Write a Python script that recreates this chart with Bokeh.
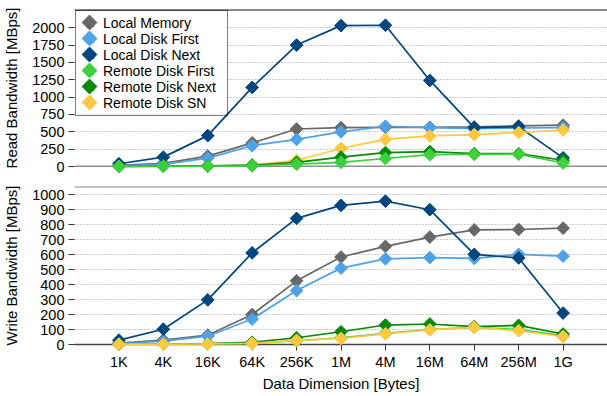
import numpy as np
from bokeh.plotting import figure
from bokeh.models import (FixedTicker, Span, Legend, LegendItem, Range1d,
                          ColumnDataSource, BoxAnnotation)
from bokeh.layouts import column
from bokeh.embed import file_html
from bokeh.resources import INLINE

# ---- data ----
sizes = ["1K", "4K", "16K", "64K", "256K", "1M", "4M", "16M", "64M", "256M", "1G"]

series_names = ["Local Memory", "Local Disk First", "Local Disk Next",
                "Remote Disk First", "Remote Disk Next", "Remote Disk SN"]

local_memory_read = [15, 45, 150, 340, 540, 560, 565, 565, 570, 585, 595]
local_disk_first_read = [10, 30, 120, 300, 390, 500, 580, 560, 545, 555, 560]
local_disk_next_read = [40, 135, 445, 1140, 1750, 2030, 2035, 1240, 560, 575, 125]
remote_disk_first_read = [2, 3, 5, 10, 35, 60, 115, 170, 175, 178, 50]
remote_disk_next_read = [3, 5, 8, 20, 60, 135, 200, 215, 185, 185, 90]
remote_disk_sn_read = [2, 4, 6, 20, 90, 260, 390, 440, 460, 490, 525]

local_memory_write = [10, 30, 62, 200, 425, 584, 655, 717, 765, 768, 777]
local_disk_first_write = [5, 22, 55, 170, 360, 510, 572, 580, 575, 602, 590]
local_disk_next_write = [29, 102, 298, 612, 842, 929, 957, 900, 602, 578, 210]
remote_disk_first_write = [2, 3, 4, 8, 25, 45, 75, 100, 115, 100, 60]
remote_disk_next_write = [3, 4, 6, 15, 45, 85, 130, 137, 120, 128, 70]
remote_disk_sn_write = [2, 3, 4, 8, 28, 40, 71, 97, 115, 92, 53]

read_ticks = [0, 250, 500, 750, 1000, 1250, 1500, 1750, 2000]
write_ticks = [0, 100, 200, 300, 400, 500, 600, 700, 800, 900, 1000]

colors = {
    "Local Memory": "#686868",
    "Local Disk First": "#4ea3e8",
    "Local Disk Next": "#00467e",
    "Remote Disk First": "#3cd03c",
    "Remote Disk Next": "#078a07",
    "Remote Disk SN": "#fec93e",
}

FONT = "Liberation Sans"
x = list(range(len(sizes)))

FRAME_W = 533
TOP_FRAME_H = 157


def make_fig(ymax, ticks, ylabel, frame_height, top, bottom):
    p = figure(frame_width=FRAME_W, frame_height=frame_height,
               x_range=Range1d(-1, 11), y_range=Range1d(0, ymax),
               output_backend="svg", toolbar_location=None,
               min_border_left=74, min_border_right=0,
               min_border_top=top, min_border_bottom=bottom)
    p.outline_line_color = None
    p.xgrid.visible = False
    p.ygrid.grid_line_color = "#9a9a9a"
    p.ygrid.grid_line_dash = "1 2"
    p.ygrid.grid_line_width = 1
    p.yaxis.ticker = FixedTicker(ticks=ticks)
    p.yaxis.axis_line_color = None
    p.yaxis.major_tick_out = 6
    p.yaxis.major_tick_in = 0
    p.yaxis.minor_tick_line_color = None
    p.yaxis.major_tick_line_color = "#333333"
    p.yaxis.major_label_standoff = 4
    p.yaxis.major_label_text_font = FONT
    p.yaxis.major_label_text_font_size = "14.5px"
    p.yaxis.major_label_text_color = "black"
    p.yaxis.axis_label = ylabel
    p.yaxis.axis_label_text_font = FONT
    p.yaxis.axis_label_text_font_size = "15px"
    p.yaxis.axis_label_text_font_style = "normal"
    p.yaxis.axis_label_text_color = "black"
    p.yaxis.axis_label_standoff = 9
    p.xaxis.ticker = FixedTicker(ticks=x)
    p.xaxis.major_label_overrides = {i: s for i, s in enumerate(sizes)}
    return p


def add_series(p, order, data):
    rends = {}
    for name in order:
        c = colors[name]
        vals = data[name]
        p.line(x, vals, line_color=c, line_width=1.7, level="overlay")
        r = p.scatter(x, vals, marker="square", angle=np.pi / 4, size=9,
                      fill_color=c, line_color=c, line_width=1, level="overlay")
        rends[name] = r
    return rends


# ---- top: read ----
READ_MAX = 2262
top = make_fig(READ_MAX, read_ticks, "Read Bandwidth [MBps]", TOP_FRAME_H, 9, 10)
top.xaxis.visible = False
top.add_layout(Span(location=0, dimension="width", line_color="#222222", line_width=1.5))
top.add_layout(Span(location=READ_MAX, dimension="width", line_color="#111111", line_width=2))

# legend layout (pixels)
LG_MARGIN, LG_PAD, LG_ITEM_H, LG_GLYPH_W = 1, 4, 16, 20
LG_STANDOFF, LG_LABEL_W = 3, 120
n_items = len(series_names)
LG_W = 2 * LG_PAD + LG_GLYPH_W + LG_STANDOFF + LG_LABEL_W
LG_H = 2 * LG_PAD + LG_ITEM_H * n_items

top.extra_x_ranges = {"px": Range1d(0, FRAME_W)}
top.extra_y_ranges = {"px": Range1d(TOP_FRAME_H, 0)}

# white backing of the legend (hides the grid lines under it)
top.add_layout(BoxAnnotation(left=LG_MARGIN, right=LG_MARGIN + LG_W,
                             top=LG_MARGIN, bottom=LG_MARGIN + LG_H,
                             x_range_name="px", y_range_name="px",
                             fill_color="white", fill_alpha=1, line_color=None,
                             level="underlay"))

read_data = {
    "Local Memory": local_memory_read,
    "Local Disk First": local_disk_first_read,
    "Local Disk Next": local_disk_next_read,
    "Remote Disk First": remote_disk_first_read,
    "Remote Disk Next": remote_disk_next_read,
    "Remote Disk SN": remote_disk_sn_read,
}
top_order = ["Local Memory", "Local Disk First", "Local Disk Next",
             "Remote Disk SN", "Remote Disk Next", "Remote Disk First"]
rr = add_series(top, top_order, read_data)

legend = Legend(items=[LegendItem(label=n, renderers=[rr[n]]) for n in series_names],
                location="top_left")
legend.border_line_color = "black"
legend.border_line_width = 1
legend.background_fill_alpha = 0
legend.padding = LG_PAD
legend.spacing = 0
legend.margin = LG_MARGIN
legend.label_height = LG_ITEM_H
legend.glyph_height = LG_ITEM_H
legend.glyph_width = LG_GLYPH_W
legend.label_standoff = LG_STANDOFF
legend.label_width = LG_LABEL_W
legend.label_text_font = FONT
legend.label_text_font_size = "14px"
legend.label_text_color = "black"
top.add_layout(legend)

# diamond-shaped legend symbols on the legend's glyph slots
sym_src = ColumnDataSource(dict(
    sx=[LG_MARGIN + LG_PAD + LG_GLYPH_W / 2] * n_items,
    sy=[LG_MARGIN + LG_PAD + LG_ITEM_H * (k + 0.5) for k in range(n_items)],
    c=[colors[n] for n in series_names],
))
top.scatter("sx", "sy", source=sym_src, x_range_name="px", y_range_name="px",
            marker="square", angle=np.pi / 4, size=10.5,
            fill_color="c", line_color="c", line_width=1, level="overlay")

# ---- bottom: write ----
WRITE_MAX = 1055
bot = make_fig(WRITE_MAX, write_ticks, "Write Bandwidth [MBps]", 158, 10, 0)
bot.add_layout(Span(location=WRITE_MAX, dimension="width", line_color="#888888", line_width=2))
bot.xaxis.axis_line_color = "#444444"
bot.xaxis.axis_line_width = 1.5
bot.xaxis.major_tick_out = 6
bot.xaxis.major_tick_in = 0
bot.xaxis.minor_tick_line_color = None
bot.xaxis.major_tick_line_color = "#333333"
bot.xaxis.major_label_standoff = 3
bot.xaxis.major_label_text_font = FONT
bot.xaxis.major_label_text_font_size = "14.5px"
bot.xaxis.major_label_text_color = "black"
bot.xaxis.axis_label = "Data Dimension [Bytes]"
bot.xaxis.axis_label_text_font = FONT
bot.xaxis.axis_label_text_font_size = "15px"
bot.xaxis.axis_label_text_font_style = "normal"
bot.xaxis.axis_label_text_color = "black"
bot.xaxis.axis_label_standoff = 2

write_data = {
    "Local Memory": local_memory_write,
    "Local Disk First": local_disk_first_write,
    "Local Disk Next": local_disk_next_write,
    "Remote Disk First": remote_disk_first_write,
    "Remote Disk Next": remote_disk_next_write,
    "Remote Disk SN": remote_disk_sn_write,
}
bot_order = ["Local Memory", "Local Disk First", "Local Disk Next",
             "Remote Disk First", "Remote Disk Next", "Remote Disk SN"]
add_series(bot, bot_order, write_data)

layout = column(top, bot, spacing=0)
open("out.html", "w").write(file_html(layout, INLINE))
